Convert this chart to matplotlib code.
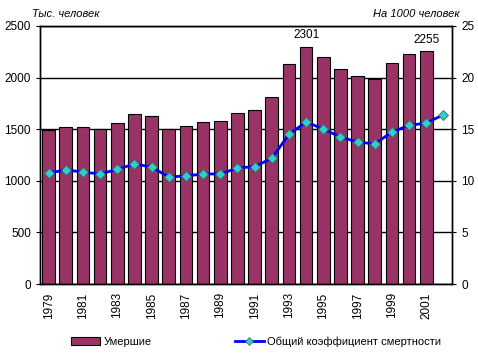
import matplotlib
matplotlib.use("Agg")
import matplotlib.pyplot as plt
from matplotlib.patches import Patch
from matplotlib.lines import Line2D

plt.rcParams['font.family'] = ['Liberation Sans', 'DejaVu Sans']

years = list(range(1979, 2003))
deaths = [1490, 1520, 1520, 1500, 1560, 1645, 1625, 1498, 1527, 1567, 1576,
          1654, 1686, 1809, 2129, 2301, 2197, 2080, 2012, 1986, 2138, 2225, 2255, None]
rate = [10.76, 11.05, 10.85, 10.66, 11.11, 11.63, 11.34, 10.37, 10.47, 10.66, 10.66,
        11.24, 11.37, 12.18, 14.5, 15.7, 15.02, 14.24, 13.76, 13.57, 14.73, 15.37, 15.6, 16.4]
tick_years = [str(y) for y in range(1979, 2002, 2)]

fig = plt.figure(figsize=(4.78, 3.6), dpi=100)
ax = fig.add_axes([0.0837, 0.2111, 0.8619, 0.7167])
ax2 = ax.twinx()

idx = list(range(len(years)))
bx = [i for i, v in zip(idx, deaths) if v is not None]
bv = [v for v in deaths if v is not None]
ax.set_axisbelow(True)
ax.yaxis.grid(True, color='black', linewidth=1)
ax.bar(bx, bv, width=0.74, color='#993366', edgecolor='black', linewidth=0.8, zorder=2)
ax.set_ylim(0, 2500)
ax.set_yticks(range(0, 2501, 500))
ax.set_xlim(-0.5, len(years) - 0.5)
ax.set_xticks([years.index(int(t)) for t in tick_years])
ax.set_xticklabels(tick_years, rotation=90, fontsize=8.5)
ax.tick_params(axis='x', length=0, pad=6)
ax.tick_params(axis='y', labelsize=8.5, length=3, direction='out')

for y in (1994, 2001):
    i = years.index(y)
    ax.text(i, deaths[i] + 50, str(deaths[i]), ha='center', va='bottom', fontsize=8.5)

ax2.plot(idx, rate, color='#0000ff', linewidth=2, marker='D', markersize=5.5,
         markerfacecolor='#33cccc', markeredgecolor='#2f6f5f', markeredgewidth=0.6, zorder=3)
ax2.set_ylim(0, 25)
ax2.set_yticks(range(0, 26, 5))
ax2.tick_params(axis='y', labelsize=8.5, length=3, direction='out')

for a in (ax, ax2):
    for s in a.spines.values():
        s.set_color('black')
        s.set_linewidth(1)

fig.text(32/478, 1 - 14/360, 'Тыс. человек', fontsize=8, style='italic', ha='left', va='center')
fig.text(460/478, 1 - 14/360, 'На 1000 человек', fontsize=8, style='italic', ha='right', va='center')

handles = [Patch(facecolor='#993366', edgecolor='black', linewidth=0.8),
           Line2D([0], [0], color='#0000ff', linewidth=2, marker='D', markersize=4,
                  markerfacecolor='#33cccc', markeredgecolor='#2f6f5f', markeredgewidth=0.5)]
fig.legend(handles, ['Умершие', 'Общий коэффициент смертности'], loc='center',
           bbox_to_anchor=(0.5356, 1 - 342/360), ncol=2, frameon=False, fontsize=8,
           columnspacing=7.5, handlelength=2.6, handletextpad=0.3)

fig.savefig('out.png', dpi=100)
